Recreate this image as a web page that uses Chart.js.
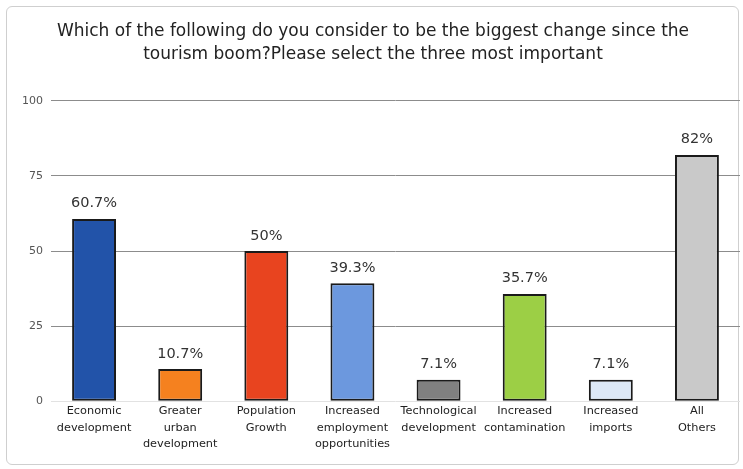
<!DOCTYPE html>
<html lang="en">
<head>
  <meta charset="UTF-8" />
  <title>Biggest change since the tourism boom</title>
  <script src="https://cdn.jsdelivr.net/npm/chart.js"></script>
  <style>
    body {
      margin: 0;
      background: #fff;
    }
    .wrap {
      position: relative;
      width: 743px;
      height: 469px;
    }
    .frame {
      position: absolute;
      left: 6px;
      top: 6px;
      right: 4px;
      bottom: 4px;
      border: 1px solid #cfcfcf;
      border-radius: 6px;
    }
    canvas {
      position: absolute;
      left: 0;
      top: 0;
    }
  </style>
</head>
<body>
  <div class="wrap">
    <div class="frame"></div>
    <canvas id="grafica" width="743" height="469"></canvas>
  </div>

  <script>
    const categorias = [
      ['Economic', 'development'],
      ['Greater', 'urban', 'development'],
      ['Population', 'Growth'],
      ['Increased', 'employment', 'opportunities'],
      ['Technological', 'development'],
      ['Increased', 'contamination'],
      ['Increased', 'imports'],
      ['All', 'Others']
    ];
    const valores = [60.7, 10.7, 50, 39.3, 7.1, 35.7, 7.1, 82];
    const etiquetas = ['60.7%', '10.7%', '50%', '39.3%', '7.1%', '35.7%', '7.1%', '82%'];
    const colores = ['#2253a9', '#f5811f', '#e8441f', '#6c98de', '#808080', '#9ccf45', '#dde8f6', '#c9c9c9'];
    const ticksY = [0, 25, 50, 75, 100];

    const fuente = '"DejaVu Sans", Verdana, sans-serif';

    // texto de porcentaje encima de cada barra
    const etiquetasBarras = {
      id: 'etiquetasBarras',
      afterDatasetsDraw(chart) {
        const ctx = chart.ctx;
        const meta = chart.getDatasetMeta(0);
        ctx.save();
        ctx.font = '14.5px ' + fuente;
        ctx.fillStyle = '#333';
        ctx.textAlign = 'center';
        ctx.textBaseline = 'bottom';
        meta.data.forEach((bar, i) => {
          ctx.fillText(etiquetas[i], bar.x, bar.y - 8);
        });
        ctx.restore();
      }
    };

    new Chart(document.getElementById('grafica').getContext('2d'), {
      type: 'bar',
      data: {
        labels: categorias,
        datasets: [{
          data: valores,
          backgroundColor: colores,
          borderColor: '#1a1a1a',
          borderWidth: 2,
          borderSkipped: false,
          barPercentage: 0.51,
          categoryPercentage: 1
        }]
      },
      options: {
        responsive: false,
        animation: false,
        layout: { padding: { left: 6, right: 3, top: 0, bottom: 15 } },
        plugins: {
          legend: { display: false },
          tooltip: { enabled: false },
          title: {
            display: true,
            text: ['Which of the following do you consider to be the biggest change since the',
                   'tourism boom?Please select the three most important'],
            color: '#222',
            font: { family: fuente, size: 17, weight: 'normal', lineHeight: 1.35 },
            padding: { top: 20, bottom: 35 }
          }
        },
        scales: {
          x: {
            grid: { display: false, drawTicks: false },
            border: { display: false },
            ticks: {
              color: '#222',
              maxRotation: 0,
              autoSkip: false,
              padding: 1,
              font: { family: fuente, size: 11.3, lineHeight: 1.5 }
            }
          },
          y: {
            min: 0,
            max: 100,
            afterFit(scale) { scale.width = 45; },
            afterBuildTicks(scale) { scale.ticks = ticksY.map(v => ({ value: v })); },
            border: { display: false },
            grid: {
              drawTicks: false,
              color: ctx => ctx.tick && ctx.tick.value === 0 ? '#e2e2e2' : '#8c8c8c',
              lineWidth: 1
            },
            ticks: {
              color: '#555',
              padding: 8,
              font: { family: fuente, size: 11 }
            }
          }
        }
      },
      plugins: [etiquetasBarras]
    });
  </script>
</body>
</html>
